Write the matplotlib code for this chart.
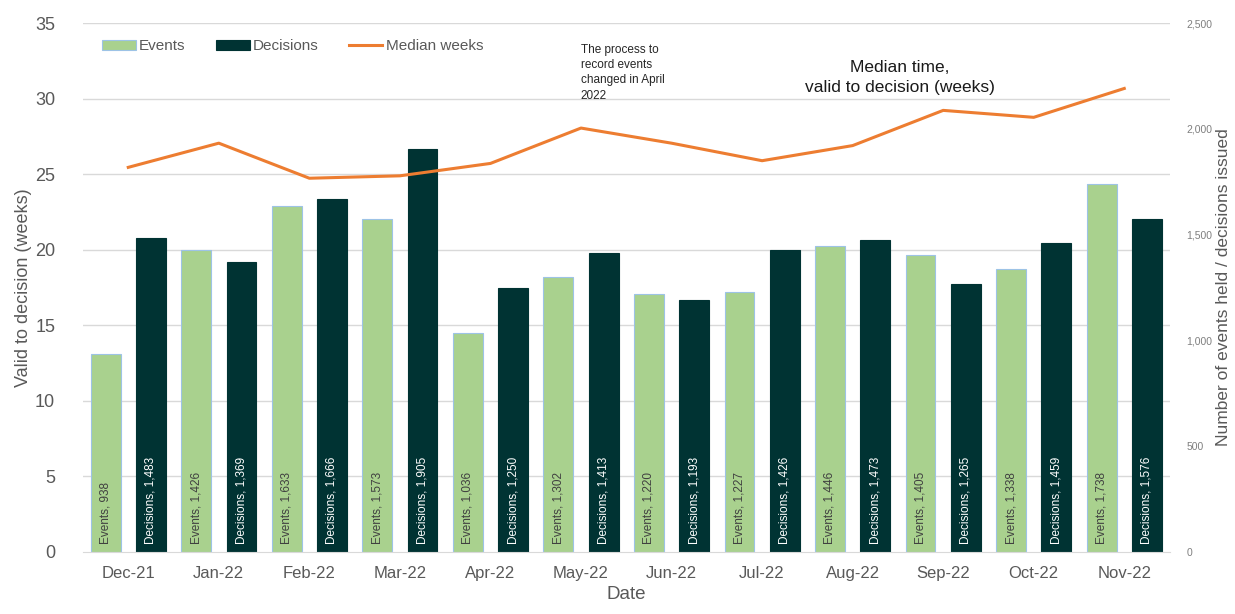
import matplotlib
matplotlib.use("Agg")
import matplotlib.pyplot as plt
import numpy as np

months = ["Dec-21", "Jan-22", "Feb-22", "Mar-22", "Apr-22", "May-22",
          "Jun-22", "Jul-22", "Aug-22", "Sep-22", "Oct-22", "Nov-22"]
events = [938, 1426, 1633, 1573, 1036, 1302, 1220, 1227, 1446, 1405, 1338, 1738]
decisions = [1483, 1369, 1666, 1905, 1250, 1413, 1193, 1426, 1473, 1265, 1459, 1576]
median_weeks = [25.45, 27.05, 24.73, 24.89, 25.71, 28.05, 27.05, 25.89, 26.89, 29.22, 28.76, 30.67]

plt.rcParams['font.family'] = ['Liberation Sans', 'DejaVu Sans']

grey = '#595959'
light = '#A9D18E'
dark = '#003333'
orange = '#ED7D31'

fig = plt.figure(figsize=(12.35, 6.14), dpi=100)
ax_bar = fig.add_axes([0.0672, 0.101, 0.8798, 0.8615])
ax = ax_bar.twinx()

x = np.arange(len(months))
w = 0.33

b1 = ax_bar.bar(x - 0.25, events, w, color=light, edgecolor='#9DC3E6', linewidth=0.8, label='Events')
b2 = ax_bar.bar(x + 0.25, decisions, w, color=dark, edgecolor=dark, linewidth=0.8, label='Decisions')

for xi, v in zip(x, events):
    ax_bar.annotate(f"Events, {v:,}", (xi - 0.25, 0), xytext=(0, 6), textcoords='offset points',
                    rotation=90, ha='center', va='bottom', fontsize=8.5, color='#404040')
for xi, v in zip(x, decisions):
    ax_bar.annotate(f"Decisions, {v:,}", (xi + 0.25, 0), xytext=(0, 6), textcoords='offset points',
                    rotation=90, ha='center', va='bottom', fontsize=8.5, color='white')

ln, = ax.plot(x, median_weeks, color=orange, linewidth=2.2, label='Median weeks')

# line axis shown on the left, bar axis on the right
ax.yaxis.tick_left()
ax.yaxis.set_label_position('left')
ax_bar.yaxis.tick_right()
ax_bar.yaxis.set_label_position('right')

ax.set_ylim(0, 35)
ax.set_yticks(range(0, 36, 5))
ax_bar.set_ylim(0, 2500)
ax_bar.set_yticks(range(0, 2501, 500))
ax_bar.set_yticklabels([f"{t:,}" for t in range(0, 2501, 500)])
ax_bar.set_xlim(-0.5, 11.5)
ax_bar.set_xticks(x)
ax_bar.set_xticklabels(months)

ax.tick_params(axis='y', labelsize=13, colors=grey, length=0, pad=20)
ax_bar.tick_params(axis='y', labelsize=7.5, colors='#7F7F7F', length=0, pad=12)
ax_bar.tick_params(axis='x', labelsize=12, colors=grey, length=0, pad=10)

for t in range(5, 36, 5):
    ax_bar.axhline(t * 2500 / 35, color='#D9D9D9', linewidth=1, zorder=0)
ax_bar.set_axisbelow(True)

for a in (ax, ax_bar):
    for s in a.spines.values():
        s.set_visible(False)
ax_bar.spines['bottom'].set_visible(True)
ax_bar.spines['bottom'].set_color('#D9D9D9')

ax.set_ylabel("Valid to decision (weeks)", fontsize=13, color=grey)
ax.yaxis.set_label_coords(-0.047, 0.5)
ax_bar.set_ylabel("Number of events held / decisions issued", fontsize=12.5, color=grey)
ax_bar.yaxis.set_label_coords(1.043, 0.5)
ax_bar.set_xlabel("Date", fontsize=13.5, color=grey, labelpad=4)

leg = ax.legend([b1, b2, ln], ['Events', 'Decisions', 'Median weeks'], loc='upper left',
                bbox_to_anchor=(0.005, 0.995), ncol=3, frameon=False, fontsize=11,
                handlelength=2.2, handletextpad=0.2, columnspacing=2.0)
for t in leg.get_texts():
    t.set_color(grey)

ax.text(0.458, 0.96, "The process to\nrecord events\nchanged in April\n2022", transform=ax.transAxes,
        ha='left', va='top', fontsize=8.5, color='#262626', linespacing=1.35)
ax.text(0.752, 0.93, "Median time,\nvalid to decision (weeks)", transform=ax.transAxes,
        ha='center', va='top', fontsize=12.5, color='#1a1a1a', linespacing=1.45)

fig.savefig("out.png", dpi=100, facecolor='white')
